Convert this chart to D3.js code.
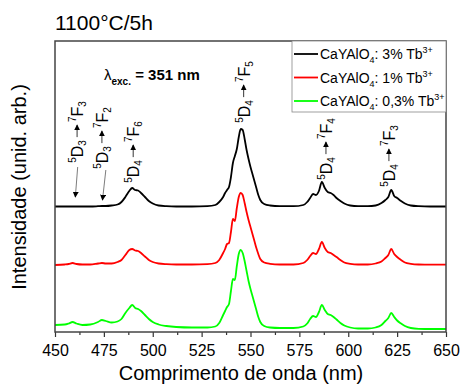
<!DOCTYPE html>
<html>
<head>
<meta charset="utf-8">
<script src="https://cdn.jsdelivr.net/npm/d3@7"></script>
<style>
  body { margin: 0; background: #fff; }
  text { font-family: "Liberation Sans", Arial, sans-serif; }
</style>
</head>
<body>
<svg id="chart" width="462" height="385"></svg>
<script>
// emission spectra, lambda exc = 351 nm
const wavelengths = [450, 455, 457, 459, 461, 464, 468, 472, 474, 476, 479, 482, 484, 486, 488, 489.5, 491, 492.5, 494, 496,
  498, 500, 503, 507, 512, 520, 528, 532, 534, 536, 537, 538, 539, 540, 541, 542, 543, 544, 545, 546,
  547, 548, 549, 550, 551, 552, 553, 554, 555, 557, 560, 565, 572, 577, 579, 580.5, 582, 583.5, 585, 586.5,
  588, 589.5, 591, 592.5, 594, 596, 598, 601, 605, 610, 614, 617, 619, 620.5, 622, 623.5, 625, 627, 629, 632,
  636, 642, 650];

const tb3 = [0.5, 0.5, 0.5, 0.5, 0.5, 0.5, 0.5, 0.8, 1, 1, 1.5, 2.5, 5, 10, 16, 19, 17, 16.5, 14, 10,
  6, 3.5, 1.5, 0.8, 0.5, 0.5, 0.8, 2, 5, 10, 14, 17, 20, 30, 44, 51, 58, 70, 78, 77,
  68, 57, 48, 40, 33, 26, 19, 12, 7, 3, 1.5, 0.8, 0.8, 2, 5, 9, 13, 12, 16, 25,
  19, 15, 14, 12, 9, 6, 3.5, 1.5, 0.8, 0.8, 1.5, 4, 7, 10, 17, 11, 9, 6, 3.5, 1.5,
  0.8, 0.5, 0.5];

const tb1 = [0, 0.5, 1, 2, 1, 0.5, 0.5, 1.5, 2, 1.5, 1.5, 3, 5, 10, 15, 16, 14.5, 14, 12, 8.5,
  5, 3, 1.5, 0.8, 0.5, 0.5, 0.8, 2, 5, 12, 16, 21, 22, 33, 46, 44, 57, 68, 72, 70,
  62, 53, 45, 38, 31, 24, 17, 11, 6, 2.5, 1.2, 0.5, 0.5, 2, 5, 9, 12, 11, 16, 23,
  17, 13, 12, 10, 8, 5, 2.5, 1.2, 0.5, 0.5, 1.5, 3.5, 7, 10, 16, 11, 8, 5, 2.5, 1.2,
  0.5, 0.3, 0.3];

const tb03 = [4, 4.5, 5.5, 7, 5.5, 4, 4.5, 7, 9, 8, 6.5, 7.5, 10, 16, 21, 24, 21, 20, 18, 14,
  10, 7, 4.5, 3, 2, 1.5, 1.5, 2.5, 6, 14, 18, 22, 25, 38, 50, 49, 63, 75, 79, 76,
  68, 58, 48, 40, 33, 26, 19, 12, 7, 3, 1.5, 1, 1, 2.5, 5.5, 10, 13, 12, 17, 24,
  19, 15, 14, 12, 9.5, 6, 3.5, 1.5, 0.5, 0.5, 1.5, 4, 8, 11, 16, 12, 8.5, 5.5, 3, 1,
  0.2, 0, 0];

const offsets = [125, 67, 3];
const concentrations = ['3%', '1%', '0,3%'];
const colors = ['#000000', '#ff0000', '#00ff00'];
const xTicks = [450, 475, 500, 525, 550, 575, 600, 625, 650];
const xMinorTicks = [462.5, 487.5, 512.5, 537.5, 562.5, 587.5, 612.5, 637.5];

const series = [tb3, tb1, tb03];

const svg = d3.select('#chart'),
  margin = {top: 41, right: 16, bottom: 53, left: 55},
  width = +svg.attr('width') - margin.left - margin.right,
  height = +svg.attr('height') - margin.top - margin.bottom,
  g = svg.append('g').attr('transform', 'translate(' + margin.left + ',' + margin.top + ')');

const x = d3.scaleLinear().domain([450, 650]).range([0, width]);
const y = d3.scaleLinear().domain([0, 291]).range([height, 0]);

const defs = svg.append('defs');
defs.append('marker')
  .attr('id', 'head')
  .attr('viewBox', '0 0 8 8')
  .attr('refX', 7).attr('refY', 4)
  .attr('markerWidth', 6).attr('markerHeight', 6)
  .attr('markerUnits', 'userSpaceOnUse')
  .attr('orient', 'auto')
  .append('path').attr('d', 'M0,0 L8,4 L0,8 z').attr('fill', '#000');

// spectra
series.forEach(function (vals, i) {
  const line = d3.line()
    .x(function (d, k) { return x(wavelengths[k]); })
    .y(function (d) { return y(d + offsets[i]); })
    .curve(d3.curveMonotoneX);
  g.append('path')
    .datum(vals)
    .attr('fill', 'none')
    .attr('stroke', colors[i])
    .attr('stroke-width', 1.8)
    .attr('stroke-linejoin', 'round')
    .attr('d', line);
});

// axes
g.append('g')
  .attr('transform', 'translate(0,' + height + ')')
  .call(d3.axisBottom(x).tickValues(xMinorTicks).tickSize(3).tickFormat(''))
  .call(function (a) { a.select('.domain').remove(); })
  .selectAll('line').attr('stroke', '#333').attr('stroke-width', 1.2);

const xAxis = g.append('g')
  .attr('transform', 'translate(0,' + height + ')')
  .call(d3.axisBottom(x).tickValues(xTicks).tickSize(5).tickPadding(8).tickFormat(d3.format('d')));
xAxis.select('.domain').remove();
xAxis.selectAll('line').attr('stroke', '#333').attr('stroke-width', 1.2);
xAxis.selectAll('text').attr('font-size', 16).attr('fill', '#000')
  .style('font-family', '"Liberation Sans", Arial, sans-serif');

g.append('rect')
  .attr('width', width).attr('height', height)
  .attr('fill', 'none').attr('stroke', '#444').attr('stroke-width', 1.5);

// axis titles
svg.append('text')
  .attr('x', 241).attr('y', 380)
  .attr('text-anchor', 'middle').attr('font-size', 20)
  .text('Comprimento de onda (nm)');

svg.append('text')
  .attr('transform', 'translate(26,' + 187 + ') rotate(-90)')
  .attr('text-anchor', 'middle').attr('font-size', 20)
  .text('Intensidade (unid. arb.)');

svg.append('text')
  .attr('x', 55).attr('y', 30).attr('font-size', 21)
  .text('1100\u00B0C/5h');

// excitation label
const exc = svg.append('text').attr('x', 104).attr('y', 80).attr('font-size', 15);
exc.append('tspan').text('\u03BB');
exc.append('tspan').attr('font-size', 10).attr('font-weight', 'bold').attr('dy', 5).text('exc.');
exc.append('tspan').attr('font-weight', 'bold').attr('dy', -5).text(' = 351 nm');

// legend
const legend = svg.append('g');
legend.append('rect')
  .attr('x', 292).attr('y', 41).attr('width', 154).attr('height', 71)
  .attr('fill', '#fff').attr('stroke', '#888').attr('stroke-width', 0.8);
concentrations.forEach(function (c, i) {
  const ly = 54 + i * 23.5;
  legend.append('line')
    .attr('x1', 294).attr('x2', 318).attr('y1', ly).attr('y2', ly)
    .attr('stroke', colors[i]).attr('stroke-width', 1.8);
  const t = legend.append('text').attr('x', 320).attr('y', ly + 5).attr('font-size', 14);
  t.append('tspan').text('CaYAlO');
  t.append('tspan').attr('font-size', 9).attr('dy', 4).text('4');
  t.append('tspan').attr('dy', -4).text(': ' + c + ' Tb');
  t.append('tspan').attr('font-size', 9).attr('dy', -6).text('3+');
});

// transition labels (rotated)
const transitions = [
  {nm: 461.3, yc: 132, up: ['5', 'D', '3'], lo: ['7', 'F', '3']},
  {nm: 474.0, yc: 138, up: ['5', 'D', '3'], lo: ['7', 'F', '2']},
  {nm: 490.0, yc: 152, up: ['5', 'D', '4'], lo: ['7', 'F', '6']},
  {nm: 546.5, yc: 92, up: ['5', 'D', '4'], lo: ['7', 'F', '5']},
  {nm: 588.6, yc: 149, up: ['5', 'D', '4'], lo: ['7', 'F', '4']},
  {nm: 620.8, yc: 156, up: ['5', 'D', '4'], lo: ['7', 'F', '3']}
];

function term(parent, x0, parts) {
  const t = parent.append('text').attr('x', x0).attr('y', 0).attr('font-size', 16);
  t.append('tspan').attr('font-size', 10).attr('dy', -7).text(parts[0]);
  t.append('tspan').attr('dy', 7).text(parts[1]);
  t.append('tspan').attr('font-size', 10).attr('dy', 3).text(parts[2]);
  return t.node().getComputedTextLength();
}

transitions.forEach(function (tr) {
  const outer = svg.append('g')
    .attr('transform', 'translate(' + (margin.left + x(tr.nm)) + ',' + tr.yc + ') rotate(-90)');
  const inner = outer.append('g');
  const l1 = term(inner, 0, tr.up);
  inner.append('line')
    .attr('x1', l1 + 3).attr('x2', l1 + 15).attr('y1', -6).attr('y2', -6)
    .attr('stroke', '#000').attr('stroke-width', 0.8)
    .attr('marker-end', 'url(#head)');
  const l2 = term(inner, l1 + 18, tr.lo);
  inner.attr('transform', 'translate(' + (-(l1 + 18 + l2) / 2) + ',6)');
});

// pointer arrows for the weak 5D3 lines
const pointers = [
  {from: [461.6, 165], to: [460.4, 135]},
  {from: [476.0, 162], to: [474.3, 132]}
];
pointers.forEach(function (p) {
  g.append('line')
    .attr('x1', x(p.from[0])).attr('y1', y(p.from[1]))
    .attr('x2', x(p.to[0])).attr('y2', y(p.to[1]))
    .attr('stroke', '#444').attr('stroke-width', 0.7)
    .attr('marker-end', 'url(#head)');
});
</script>
</body>
</html>
